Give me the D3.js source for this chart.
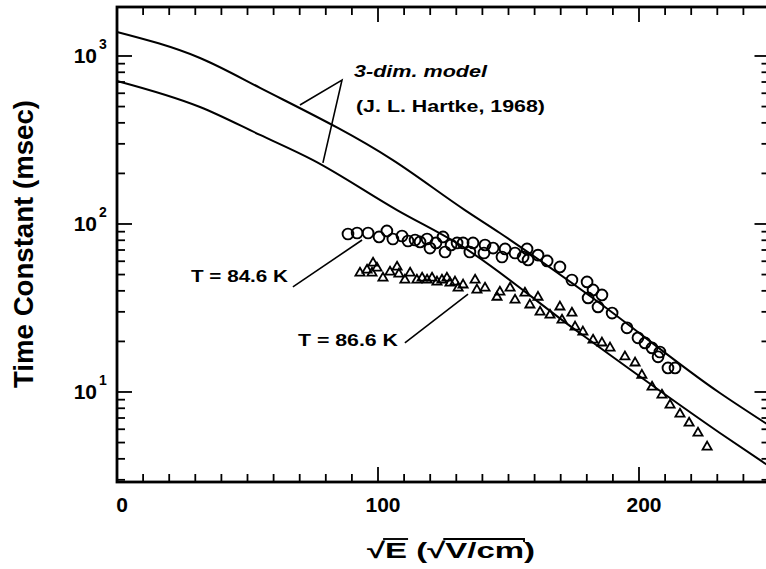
<!DOCTYPE html>
<html><head><meta charset="utf-8">
<script src="https://cdn.jsdelivr.net/npm/d3@7"></script>
<style>
body{margin:0;background:#fff;}
svg{display:block;}
text{font-family:"Liberation Sans",Arial,Helvetica,sans-serif;font-weight:bold;fill:#000;}
</style>
</head><body>
<svg id="c" width="766" height="569"></svg>
<script>
// ---- data ----
const circlesX = [88.5, 92.0, 96.2, 100.4, 103.4, 105.7, 109.2, 111.5, 114.2, 116.1, 118.8, 119.9, 122.2, 124.9, 125.7, 128.0, 130.3, 132.6, 136.4, 135.2, 141.0, 140.6, 144.1, 147.5, 148.7, 152.5, 155.6, 157.1, 157.5, 161.3, 164.8, 169.7, 174.3, 180.1, 182.4, 180.5, 184.3, 185.8, 189.7, 195.4, 199.6, 202.3, 205.0, 208.0, 207.3, 211.1, 213.8];
const circlesY = [87.2, 88.4, 88.4, 83.7, 90.9, 81.4, 84.8, 79.2, 80.3, 78.2, 81.4, 71.9, 77.1, 83.7, 68.1, 75.0, 77.1, 77.1, 77.1, 68.1, 75.0, 67.2, 71.9, 63.6, 71.0, 67.2, 63.6, 71.0, 61.1, 65.3, 60.3, 55.5, 46.4, 45.2, 40.5, 36.3, 32.1, 37.8, 29.5, 24.1, 21.0, 19.6, 18.3, 17.3, 16.2, 13.9, 13.9];
const trianglesX = [93.1, 95.8, 97.7, 98.1, 99.6, 101.9, 104.6, 107.3, 108.0, 110.3, 112.3, 114.9, 116.9, 118.8, 120.7, 122.6, 124.5, 126.4, 127.6, 129.5, 130.7, 132.6, 137.2, 137.9, 141.0, 145.6, 146.7, 150.6, 152.5, 156.3, 158.2, 161.3, 162.1, 165.9, 169.7, 170.5, 174.3, 175.5, 178.5, 182.4, 185.8, 188.9, 194.6, 198.5, 201.1, 205.0, 208.8, 211.9, 215.7, 219.2, 222.6, 226.1];
const trianglesY = [51.1, 53.2, 51.1, 58.6, 54.7, 47.7, 51.8, 55.5, 50.4, 46.4, 51.1, 46.4, 47.7, 46.4, 47.7, 45.2, 46.4, 47.7, 44.6, 45.2, 41.6, 43.4, 46.4, 40.5, 41.6, 36.7, 39.4, 41.6, 35.3, 38.8, 33.0, 36.7, 29.9, 28.7, 32.1, 26.8, 29.5, 24.4, 22.8, 20.4, 19.6, 18.3, 16.2, 14.9, 12.6, 10.7, 9.6, 8.37, 7.40, 6.53, 5.70, 4.71];
const modelUpperX = [0, 31.8, 54.8, 105.7, 133.3, 146.7, 181.2, 231.0, 250];
const modelUpperY = [1390, 973, 646, 240, 121, 88.4, 37.3, 9.86, 6.3];
const modelLowerX = [0, 31.8, 54.8, 75.1, 107.3, 131.4, 174.7, 231.0, 250];
const modelLowerY = [710, 497, 339, 240, 121, 75.0, 24.0, 5.70, 3.6];
const xMajorTicks = [0, 100, 200];
const xTickLabels = ["0", "100", "200"];
const yMajorTicks = [10, 100, 1000];
const yTickBase = ["10", "10", "10"];
const yTickExp = ["1", "2", "3"];
const yAxisTitle = "Time Constant (msec)";
const xAxisTitle = "\u221AE (\u221AV/cm)";
const modelNote = ["3-dim. model", "(J. L. Hartke, 1968)"];
const seriesLabels = ["T = 84.6 K", "T = 86.6 K"];
// leader lines in data coordinates
const leader846X = [67.4, 93.9], leader846Y = [42.2, 80.3];
const leader866X = [110.3, 134.5], leader866Y = [19.6, 38.3];
const modelLeaderX = [70.1, 86.2, 78.9], modelLeaderY = [511, 719, 231];

// ---- layout ----
const L = 117, T = 7, R = 769.5, B = 482;
const x = d3.scaleLinear().domain([0, 250]).range([L, R]);
const y = d3.scaleLog().domain([2.912, 1957]).range([B, T]);
const svg = d3.select("#c");

// frame
svg.append("rect").attr("x", L).attr("y", T).attr("width", R - L).attr("height", B - T)
  .attr("fill", "none").attr("stroke", "#000").attr("stroke-width", 2.8);

// model curves
const line = d3.line().x(d => x(d[0])).y(d => y(d[1])).curve(d3.curveMonotoneX);
[[modelUpperX, modelUpperY], [modelLowerX, modelLowerY]].forEach(([xs, ys]) => {
  svg.append("path").datum(d3.zip(xs, ys)).attr("d", line)
    .attr("fill", "none").attr("stroke", "#000").attr("stroke-width", 2);
});

// data markers
svg.append("g").selectAll("circle").data(d3.zip(circlesX, circlesY)).join("circle")
  .attr("cx", d => x(d[0])).attr("cy", d => y(d[1])).attr("r", 5.4)
  .attr("fill", "none").attr("stroke", "#000").attr("stroke-width", 1.9);
const tri = d3.symbol().type(d3.symbolTriangle).size(36);
svg.append("g").selectAll("path").data(d3.zip(trianglesX, trianglesY)).join("path")
  .attr("d", tri).attr("transform", d => `translate(${x(d[0])},${y(d[1])})`)
  .attr("fill", "none").attr("stroke", "#000").attr("stroke-width", 1.8);

// leaders
const pl = d3.line().x(d => x(d[0])).y(d => y(d[1]));
[[leader846X, leader846Y], [leader866X, leader866Y], [modelLeaderX, modelLeaderY]].forEach(([xs, ys]) => {
  svg.append("path").datum(d3.zip(xs, ys)).attr("d", pl)
    .attr("fill", "none").attr("stroke", "#000").attr("stroke-width", 1.6);
});

// ticks (inward on all four sides): one two-point path per tick
const xMinor = d3.range(10, 250, 10).filter(v => !xMajorTicks.includes(v));
const yMinor = [];
[1, 10, 100, 1000].forEach(d => { for (let k = 2; k <= 9; k++) { const v = d * k; if (v > 2.95 && v < 1950) yMinor.push(v); } });
const seg = d3.line();
const tickSegs = [];
xMinor.forEach(v => { tickSegs.push([[x(v), B], [x(v), B - 8]]); tickSegs.push([[x(v), T], [x(v), T + 8]]); });
xMajorTicks.forEach(v => { tickSegs.push([[x(v), B], [x(v), B - 15]]); tickSegs.push([[x(v), T], [x(v), T + 15]]); });
yMinor.forEach(v => { tickSegs.push([[L, y(v)], [L + 8, y(v)]]); tickSegs.push([[R, y(v)], [R - 8, y(v)]]); });
yMajorTicks.forEach(v => { tickSegs.push([[L, y(v)], [L + 15, y(v)]]); tickSegs.push([[R, y(v)], [R - 15, y(v)]]); });
tickSegs.forEach(s => {
  svg.append("path").datum(s).attr("d", seg)
    .attr("fill", "none").attr("stroke", "#000").attr("stroke-width", 1.8);
});

// tick labels
svg.append("g").selectAll("text").data(xMajorTicks).join("text")
  .attr("x", d => x(d) + 5).attr("y", 512).attr("text-anchor", "middle")
  .attr("font-size", 21).text((d, i) => xTickLabels[i]);
const yl = svg.append("g");
yMajorTicks.forEach((v, i) => {
  yl.append("text").attr("x", L - 20).attr("y", y(v) + 7.5).attr("text-anchor", "end")
    .attr("font-size", 21).text(yTickBase[i]);
  yl.append("text").attr("x", L - 18).attr("y", y(v) - 7).attr("text-anchor", "start")
    .attr("font-size", 14).text(yTickExp[i]);
});

// axis titles
svg.append("text").attr("transform", `translate(33,244) rotate(-90)`)
  .attr("text-anchor", "middle").attr("font-size", 27)
  .attr("textLength", 288).attr("lengthAdjust", "spacingAndGlyphs").text(yAxisTitle);

const xt = svg.append("text").attr("x", 367).attr("y", 558).attr("font-size", 22)
  .attr("textLength", 168).attr("lengthAdjust", "spacingAndGlyphs").text(xAxisTitle);
let ov1 = [380, 396], ov2 = [437, 522];
try {
  const n = xt.node();
  const e1 = n.getExtentOfChar(0), e2 = n.getExtentOfChar(1);
  const e4 = n.getExtentOfChar(4), e8 = n.getExtentOfChar(8);
  if (isFinite(e1.x) && e1.width > 0) {
    ov1 = [e1.x + e1.width - 2, e2.x + e2.width + 1];
    ov2 = [e4.x + e4.width - 2, e8.x + e8.width];
  }
} catch (e) {}
[[[ov1[0], 539], [ov1[1], 539]], [[ov2[0], 539], [ov2[1], 539], [ov2[1], 542]]].forEach(s => {
  svg.append("path").datum(s).attr("d", seg)
    .attr("fill", "none").attr("stroke", "#000").attr("stroke-width", 1.9);
});

// annotations
svg.append("text").attr("x", 354).attr("y", 77).attr("font-size", 17).attr("font-style", "italic")
  .attr("textLength", 133).attr("lengthAdjust", "spacingAndGlyphs").text(modelNote[0]);
svg.append("text").attr("x", 356).attr("y", 112).attr("font-size", 17)
  .attr("textLength", 189).attr("lengthAdjust", "spacingAndGlyphs").text(modelNote[1]);
svg.append("text").attr("x", 191).attr("y", 282).attr("font-size", 16)
  .attr("textLength", 97).attr("lengthAdjust", "spacingAndGlyphs").text(seriesLabels[0]);
svg.append("text").attr("x", 298).attr("y", 346).attr("font-size", 16)
  .attr("textLength", 100).attr("lengthAdjust", "spacingAndGlyphs").text(seriesLabels[1]);
</script>
</body></html>
